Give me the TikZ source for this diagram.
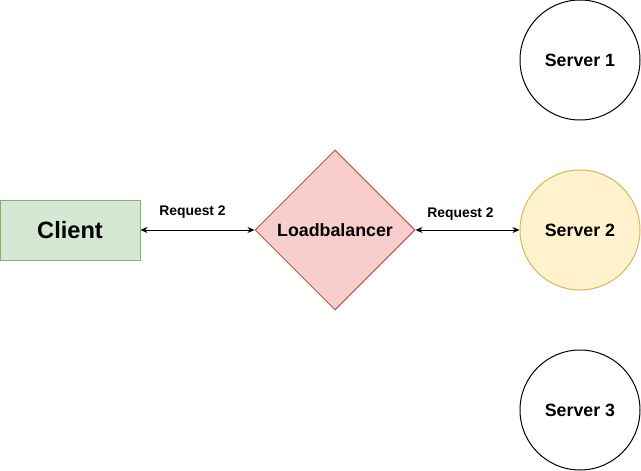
\documentclass[tikz,border=0pt]{standalone}
\usepackage{fontspec}
\setmainfont{Liberation Sans}
\usetikzlibrary{shapes.geometric,arrows.meta}

\definecolor{clientfill}{HTML}{D5E8D4}
\definecolor{clientdraw}{HTML}{82B366}
\definecolor{lbfill}{HTML}{F8CECC}
\definecolor{lbdraw}{HTML}{B85450}
\definecolor{srvfill}{HTML}{FFF2CC}
\definecolor{srvdraw}{HTML}{D6B656}

\tikzset{
  box/.style={draw=clientdraw,fill=clientfill,minimum width=140pt,minimum height=60pt,inner sep=0pt,
    font=\fontsize{23.6}{26}\selectfont\bfseries},
  lbnode/.style={diamond,draw=lbdraw,fill=lbfill,minimum width=160pt,minimum height=160pt,inner sep=0pt,
    aspect=1,font=\fontsize{17.8}{20}\selectfont\bfseries},
  server/.style={circle,draw=black,fill=white,minimum size=120pt,inner sep=0pt,
    font=\fontsize{17.8}{20}\selectfont\bfseries},
  req/.style={font=\fontsize{13.9}{16}\selectfont\bfseries,inner sep=0pt}
}

\begin{document}
\begin{tikzpicture}[x=1pt,y=-1pt,line width=1pt]
\useasboundingbox (0,0) rectangle (641,471);
% client and loadbalancer
\node[box] (client) at (70,230) {Client};
\node[lbnode] (lb) at (335,230) {Loadbalancer};

% servers
\node[server] (s1) at (580,60) {Server 1};
\node[server,draw=srvdraw,fill=srvfill] (s2) at (580,230) {Server 2};
\node[server] (s3) at (580,410) {Server 3};

\path[{Stealth[length=7pt,width=6pt]}-{Stealth[length=7pt,width=6pt]}]
% requests
(client) edge node[req,above=11pt,xshift=-5pt]{Request 2} (lb)
(lb) edge node[req,above=9pt,xshift=-7pt]{Request 2} (s2);

\end{tikzpicture}
\end{document}
